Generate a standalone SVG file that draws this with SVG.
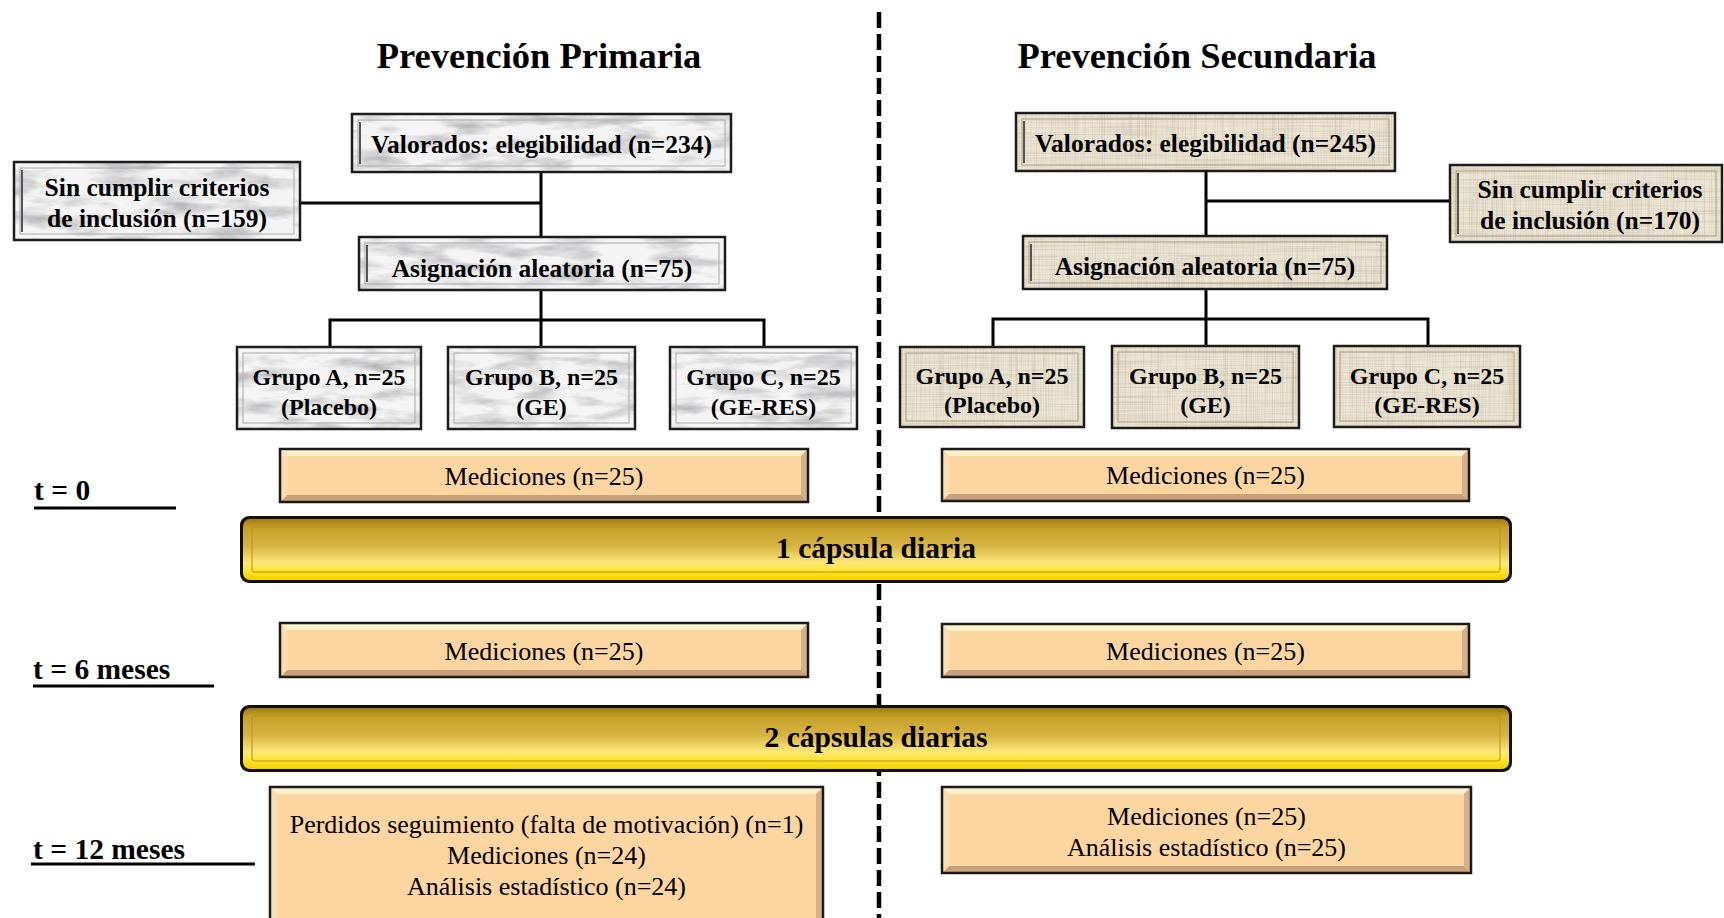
<svg xmlns="http://www.w3.org/2000/svg" width="1724" height="918" viewBox="0 0 1724 918">
<defs>
<style>
text { font-family: "Liberation Serif", "Times New Roman", serif; fill: #000; }
.title { font-size: 36.5px; font-weight: bold; text-anchor: middle; }
.bt { font-size: 25.5px; font-weight: bold; text-anchor: middle; }
.gt { font-size: 24px; font-weight: bold; text-anchor: middle; }
.mt { font-size: 26px; text-anchor: middle; }
.bart { font-size: 29.5px; font-weight: bold; text-anchor: middle; }
.tl { font-size: 29.5px; font-weight: bold; }
.marble { fill: #f4f4f4; filter: url(#marbleF); }
.linen { fill: #ede6d5; filter: url(#linenF); }
.frame { fill: none; stroke: #1c1c1c; stroke-width: 2.5; }
.innerM { fill: none; stroke: #b4b4b4; stroke-width: 1.2; }
.innerL { fill: none; stroke: #b3a88f; stroke-width: 1.2; }
.edge { stroke: #555; stroke-width: 2; }
.conn { stroke: #000; stroke-width: 3; fill: none; stroke-linecap: square; }
.peach { fill: #fdd5a1; }
.pt { fill: #fff0cc; }
.pb { fill: #c7a17c; }
.pl { fill: #f7deb4; }
.pr { fill: #d7b088; }
.pframe { fill: none; stroke: #1a1a1a; stroke-width: 2.5; }
.barOut { fill: #141000; }
.barIn { fill: url(#gold); }
.barLine { fill: none; stroke: #b89418; stroke-width: 1.5; opacity: 0.7; }
.uline { stroke: #000; stroke-width: 3; }
</style>
<linearGradient id="gold" x1="0" y1="0" x2="0" y2="1">
<stop offset="0" stop-color="#9e7c12"/>
<stop offset="0.14" stop-color="#c6a02a"/>
<stop offset="0.45" stop-color="#d8b443"/>
<stop offset="0.72" stop-color="#fde878"/>
<stop offset="0.86" stop-color="#fde42c"/>
<stop offset="1" stop-color="#f0d000"/>
</linearGradient>
<filter id="marbleF" x="0" y="0" width="1" height="1" color-interpolation-filters="sRGB">
<feTurbulence type="fractalNoise" baseFrequency="0.02 0.07" numOctaves="4" seed="11" result="n"/>
<feColorMatrix in="n" type="matrix" values="0 0 0 0 0.6  0 0 0 0 0.6  0 0 0 0 0.62  1.6 0 0 0 -0.72" result="v"/>
<feComposite in="v" in2="SourceGraphic" operator="in" result="vc"/>
<feMerge><feMergeNode in="SourceGraphic"/><feMergeNode in="vc"/></feMerge>
</filter>
<filter id="linenF" x="0" y="0" width="1" height="1" color-interpolation-filters="sRGB">
<feTurbulence type="fractalNoise" baseFrequency="0.9 0.012" numOctaves="2" seed="2" result="a"/>
<feTurbulence type="fractalNoise" baseFrequency="0.012 0.9" numOctaves="2" seed="4" result="b"/>
<feColorMatrix in="a" type="matrix" values="0 0 0 0 0.66  0 0 0 0 0.6  0 0 0 0 0.5  0.7 0 0 0 -0.3" result="a2"/>
<feColorMatrix in="b" type="matrix" values="0 0 0 0 0.66  0 0 0 0 0.6  0 0 0 0 0.5  0.7 0 0 0 -0.3" result="b2"/>
<feMerge result="m"><feMergeNode in="a2"/><feMergeNode in="b2"/></feMerge>
<feComposite in="m" in2="SourceGraphic" operator="in" result="mc"/>
<feMerge><feMergeNode in="SourceGraphic"/><feMergeNode in="mc"/></feMerge>
</filter>
</defs>

<rect x="0" y="0" width="1724" height="918" fill="#ffffff"/>

<!-- divider -->
<line id="divider" x1="879" y1="12" x2="879" y2="918" stroke="#000" stroke-width="4.5" stroke-dasharray="16 6"/>

<!-- titles -->
<text id="title-primaria" class="title" x="539" y="68">Prevención Primaria</text>
<text id="title-secundaria" class="title" x="1197" y="68">Prevención Secundaria</text>

<!-- connectors -->
<g id="connectors">
<path class="conn" d="M541,172 V237 M300,203 H541 M541,290 V320 M330,320 H764 M330,320 V347 M541,320 V347 M764,320 V347"/>
<path class="conn" d="M1206,171 V236 M1206,201 H1450 M1206,289 V319 M993,319 H1428 M993,319 V346 M1206,319 V346 M1428,319 V346"/>
</g>

<!-- left marble boxes -->
<g id="pp-valorados">
<rect class="marble" x="352" y="114" width="379" height="58"/>
<rect class="innerM" x="358" y="120" width="367" height="46"/>
<line class="edge" x1="360" y1="122" x2="360" y2="164"/>
<rect class="frame" x="352" y="114" width="379" height="58"/>
<text class="bt" x="541.5" y="153">Valorados: elegibilidad (n=234)</text>
</g>
<g id="pp-sincumplir">
<rect class="marble" x="14" y="162" width="286" height="78"/>
<rect class="innerM" x="20" y="168" width="274" height="66"/>
<line class="edge" x1="22" y1="170" x2="22" y2="232"/>
<rect class="frame" x="14" y="162" width="286" height="78"/>
<text class="bt" x="157" y="196">Sin cumplir criterios</text>
<text class="bt" x="157" y="227">de inclusión (n=159)</text>
</g>
<g id="pp-asignacion">
<rect class="marble" x="359" y="237" width="366" height="53"/>
<rect class="innerM" x="365" y="243" width="354" height="41"/>
<line class="edge" x1="367" y1="245" x2="367" y2="282"/>
<rect class="frame" x="359" y="237" width="366" height="53"/>
<text class="bt" x="542" y="277">Asignación aleatoria (n=75)</text>
</g>
<g id="pp-grupoA">
<rect class="marble" x="237" y="347" width="184" height="82"/>
<rect class="innerM" x="243" y="353" width="172" height="70"/>
<rect class="frame" x="237" y="347" width="184" height="82"/>
<text class="gt" x="329" y="385">Grupo A, n=25</text>
<text class="gt" x="329" y="415">(Placebo)</text>
</g>
<g id="pp-grupoB">
<rect class="marble" x="448" y="347" width="187" height="82"/>
<rect class="innerM" x="454" y="353" width="175" height="70"/>
<rect class="frame" x="448" y="347" width="187" height="82"/>
<text class="gt" x="541.5" y="385">Grupo B, n=25</text>
<text class="gt" x="541.5" y="415">(GE)</text>
</g>
<g id="pp-grupoC">
<rect class="marble" x="670" y="347" width="187" height="82"/>
<rect class="innerM" x="676" y="353" width="175" height="70"/>
<rect class="frame" x="670" y="347" width="187" height="82"/>
<text class="gt" x="763.5" y="385">Grupo C, n=25</text>
<text class="gt" x="763.5" y="415">(GE-RES)</text>
</g>

<!-- right linen boxes -->
<g id="ps-valorados">
<rect class="linen" x="1016" y="113" width="379" height="58"/>
<rect class="innerL" x="1022" y="119" width="367" height="46"/>
<line class="edge" x1="1024" y1="121" x2="1024" y2="163"/>
<rect class="frame" x="1016" y="113" width="379" height="58"/>
<text class="bt" x="1205.5" y="152">Valorados: elegibilidad (n=245)</text>
</g>
<g id="ps-sincumplir">
<rect class="linen" x="1450" y="165" width="272" height="77"/>
<rect class="innerL" x="1456" y="171" width="260" height="65"/>
<line class="edge" x1="1458" y1="173" x2="1458" y2="234"/>
<rect class="frame" x="1450" y="165" width="272" height="77"/>
<text class="bt" x="1590" y="198">Sin cumplir criterios</text>
<text class="bt" x="1590" y="229">de inclusión (n=170)</text>
</g>
<g id="ps-asignacion">
<rect class="linen" x="1023" y="236" width="364" height="53"/>
<rect class="innerL" x="1029" y="242" width="352" height="41"/>
<line class="edge" x1="1031" y1="244" x2="1031" y2="281"/>
<rect class="frame" x="1023" y="236" width="364" height="53"/>
<text class="bt" x="1205" y="275">Asignación aleatoria (n=75)</text>
</g>
<g id="ps-grupoA">
<rect class="linen" x="900" y="347" width="184" height="80"/>
<rect class="innerL" x="906" y="353" width="172" height="68"/>
<rect class="frame" x="900" y="347" width="184" height="80"/>
<text class="gt" x="992" y="384">Grupo A, n=25</text>
<text class="gt" x="992" y="413">(Placebo)</text>
</g>
<g id="ps-grupoB">
<rect class="linen" x="1112" y="346" width="187" height="82"/>
<rect class="innerL" x="1118" y="352" width="175" height="70"/>
<rect class="frame" x="1112" y="346" width="187" height="82"/>
<text class="gt" x="1205.5" y="384">Grupo B, n=25</text>
<text class="gt" x="1205.5" y="413">(GE)</text>
</g>
<g id="ps-grupoC">
<rect class="linen" x="1334" y="346" width="186" height="81"/>
<rect class="innerL" x="1340" y="352" width="174" height="69"/>
<rect class="frame" x="1334" y="346" width="186" height="81"/>
<text class="gt" x="1427" y="384">Grupo C, n=25</text>
<text class="gt" x="1427" y="413">(GE-RES)</text>
</g>

<!-- time labels -->
<g id="t0">
<text class="tl" x="34" y="500">t = 0</text>
<line class="uline" x1="34" y1="508" x2="176" y2="508"/>
</g>
<g id="t6">
<text class="tl" x="33" y="679">t = 6 meses</text>
<line class="uline" x1="33" y1="686" x2="214" y2="686"/>
</g>
<g id="t12">
<text class="tl" x="33" y="859">t = 12 meses</text>
<line class="uline" x1="31" y1="864" x2="255" y2="864"/>
</g>

<!-- peach boxes -->
<g id="pp-med-t0">
<rect class="peach" x="280" y="449" width="528" height="53"/>
<polygon class="pt" points="280,449 808,449 801,456 287,456"/>
<polygon class="pb" points="280,502 808,502 801,495 287,495"/>
<polygon class="pl" points="280,449 287,456 287,495 280,502"/>
<polygon class="pr" points="808,449 801,456 801,495 808,502"/>
<rect class="pframe" x="280" y="449" width="528" height="53"/>
<text class="mt" x="544" y="485">Mediciones (n=25)</text>
</g>
<g id="ps-med-t0">
<rect class="peach" x="942" y="449" width="527" height="52"/>
<polygon class="pt" points="942,449 1469,449 1462,456 949,456"/>
<polygon class="pb" points="942,501 1469,501 1462,494 949,494"/>
<polygon class="pl" points="942,449 949,456 949,494 942,501"/>
<polygon class="pr" points="1469,449 1462,456 1462,494 1469,501"/>
<rect class="pframe" x="942" y="449" width="527" height="52"/>
<text class="mt" x="1205.5" y="484">Mediciones (n=25)</text>
</g>
<g id="pp-med-t6">
<rect class="peach" x="280" y="623" width="528" height="54"/>
<polygon class="pt" points="280,623 808,623 801,630 287,630"/>
<polygon class="pb" points="280,677 808,677 801,670 287,670"/>
<polygon class="pl" points="280,623 287,630 287,670 280,677"/>
<polygon class="pr" points="808,623 801,630 801,670 808,677"/>
<rect class="pframe" x="280" y="623" width="528" height="54"/>
<text class="mt" x="544" y="660">Mediciones (n=25)</text>
</g>
<g id="ps-med-t6">
<rect class="peach" x="942" y="624" width="527" height="53"/>
<polygon class="pt" points="942,624 1469,624 1462,631 949,631"/>
<polygon class="pb" points="942,677 1469,677 1462,670 949,670"/>
<polygon class="pl" points="942,624 949,631 949,670 942,677"/>
<polygon class="pr" points="1469,624 1462,631 1462,670 1469,677"/>
<rect class="pframe" x="942" y="624" width="527" height="53"/>
<text class="mt" x="1205.5" y="660">Mediciones (n=25)</text>
</g>
<g id="pp-final">
<rect class="peach" x="270" y="787" width="553" height="143"/>
<polygon class="pt" points="270,787 823,787 816,794 277,794"/>
<polygon class="pl" points="270,787 277,794 277,930 270,930"/>
<polygon class="pr" points="823,787 816,794 816,930 823,930"/>
<rect class="pframe" x="270" y="787" width="553" height="143"/>
<text class="mt" x="546.5" y="833">Perdidos seguimiento (falta de motivación) (n=1)</text>
<text class="mt" x="546.5" y="864">Mediciones (n=24)</text>
<text class="mt" x="546.5" y="895">Análisis estadístico (n=24)</text>
</g>
<g id="ps-final">
<rect class="peach" x="942" y="787" width="529" height="86"/>
<polygon class="pt" points="942,787 1471,787 1464,794 949,794"/>
<polygon class="pb" points="942,873 1471,873 1464,866 949,866"/>
<polygon class="pl" points="942,787 949,794 949,866 942,873"/>
<polygon class="pr" points="1471,787 1464,794 1464,866 1471,873"/>
<rect class="pframe" x="942" y="787" width="529" height="86"/>
<text class="mt" x="1206.5" y="825">Mediciones (n=25)</text>
<text class="mt" x="1206.5" y="856">Análisis estadístico (n=25)</text>
</g>

<!-- gold bars -->
<g id="bar-1capsula">
<rect class="barOut" x="240" y="516" width="1272" height="67" rx="9"/>
<rect class="barIn" x="243" y="519" width="1266" height="61" rx="7"/>
<rect class="barLine" x="252" y="527" width="1248" height="45" rx="3"/>
<text class="bart" x="876" y="558">1 cápsula diaria</text>
</g>
<g id="bar-2capsulas">
<rect class="barOut" x="240" y="705" width="1272" height="67" rx="9"/>
<rect class="barIn" x="243" y="708" width="1266" height="61" rx="7"/>
<rect class="barLine" x="252" y="716" width="1248" height="45" rx="3"/>
<text class="bart" x="876" y="747">2 cápsulas diarias</text>
</g>
</svg>
